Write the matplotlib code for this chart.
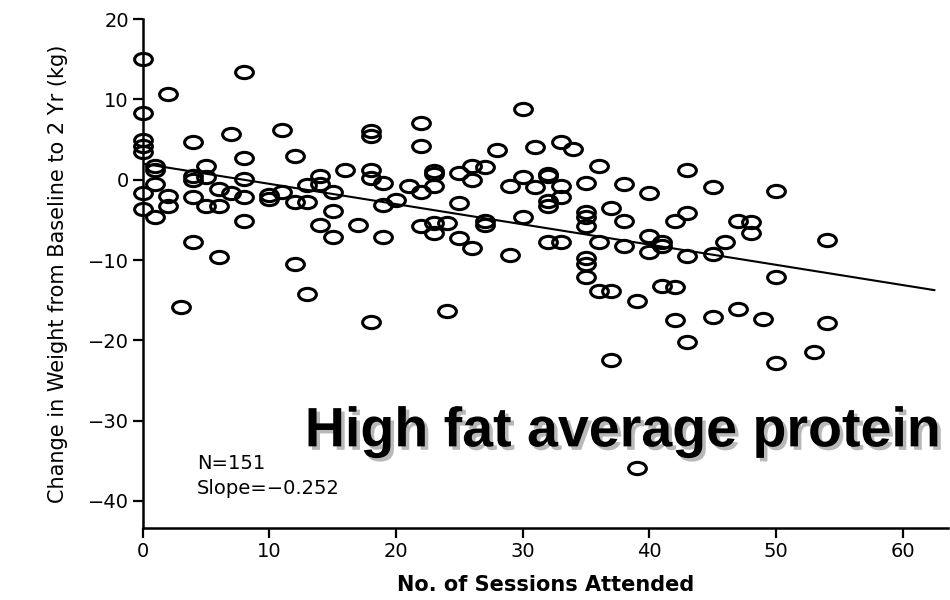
import matplotlib
matplotlib.use('Agg')
import matplotlib.pyplot as plt
import matplotlib.patheffects as pe
from matplotlib.path import Path
import numpy as np

# sessions attended / weight change (kg)
sessions = [0, 0, 0, 0, 0, 0, 0,
            1, 1, 1, 1,
            2, 2, 2,
            3,
            4, 4, 4, 4, 4,
            5, 5, 5,
            6, 6, 6,
            7, 7,
            8, 8, 8, 8, 8,
            10, 10,
            11, 11,
            12, 12, 12,
            13, 13, 13,
            14, 14, 14,
            15, 15, 15,
            16,
            17,
            18, 18, 18, 18, 18,
            19, 19, 19,
            20,
            21,
            22, 22, 22, 22,
            23, 23, 23, 23, 23,
            24, 24,
            25, 25, 25,
            26, 26, 26,
            27, 27, 27,
            28,
            29, 29,
            30, 30, 30,
            31, 31,
            32, 32, 32, 32, 32,
            33, 33, 33, 33,
            34,
            35, 35, 35, 35, 35, 35, 35,
            36, 36, 36,
            37, 37, 37,
            38, 38, 38,
            39, 39,
            40, 40, 40,
            41, 41, 41,
            42, 42, 42,
            43, 43, 43, 43,
            45, 45, 45,
            46,
            47, 47,
            48, 48,
            49,
            50, 50, 50,
            53,
            54, 54]

weight_change = [15.0, 8.3, 5.0, 4.15, 3.4, -1.6, -3.7,
                 1.75, 1.25, -0.5, -4.7,
                 10.7, -2.0, -3.3,
                 -15.9,
                 4.7, 0.4, -0.1, -2.1, -7.7,
                 1.75, 0.3, -3.3,
                 -1.2, -3.3, -9.6,
                 5.7, -1.6,
                 13.4, 2.7, 0.1, -2.1, -5.2,
                 -1.9, -2.4,
                 6.2, -1.5,
                 3.0, -2.8, -10.5,
                 -0.7, -2.8, -14.2,
                 0.4, -0.6, -5.6,
                 -1.5, -3.9, -7.1,
                 1.25,
                 -5.6,
                 6.0, 5.4, 1.25, 0.2, -17.7,
                 -0.4, -3.2, -7.1,
                 -2.5,
                 -0.75,
                 7.1, 4.2, -1.5, -5.8,
                 1.1, 0.7, -0.75, -5.4, -6.7,
                 -5.4, -16.4,
                 0.8, -2.9, -7.3,
                 1.75, 0.0, -8.5,
                 1.6, -5.2, -5.6,
                 3.7,
                 -0.8, -9.4,
                 8.8, 0.3, -4.65,
                 4.1, -0.9,
                 0.75, 0.4, -2.7, -3.3, -7.8,
                 4.65, -0.8, -2.2, -7.8,
                 3.8,
                 -0.4, -4.0, -4.6, -5.8, -9.8, -10.5, -12.1,
                 1.7, -7.8, -13.9,
                 -3.5, -13.8, -22.5,
                 -0.6, -5.1, -8.3,
                 -15.05, -35.9,
                 -1.7, -7.0, -9.0,
                 -7.7, -8.2, -13.2,
                 -5.1, -13.3, -17.5,
                 1.25, -4.1, -9.5, -20.2,
                 -0.9, -9.3, -17.1,
                 -7.8,
                 -5.1, -16.1,
                 -5.3, -6.7,
                 -17.4,
                 -1.4, -12.1, -22.8,
                 -21.4,
                 -7.5, -17.8]

# fitted line
slope = -0.252
intercept = 2.0
fit_x = [0, 62.5]
n_label = 'N=151'
slope_label = 'Slope=\u22120.252'
title = 'High fat average protein'

xticks = [0, 10, 20, 30, 40, 50, 60]
yticks = [20, 10, 0, -10, -20, -30, -40]

# wide ellipse marker (the original is stretched)
circ = Path.unit_circle()
ellipse = Path(circ.vertices * np.array([1.45, 1.0]), circ.codes)

fig = plt.figure(figsize=(9.5, 6), dpi=100)
ax = fig.add_axes([0.1502, 0.1195, 0.848, 0.8488])

ax.plot(sessions, weight_change, linestyle='none', marker=ellipse,
        ms=12.8, mfc='none', mec='black', mew=2.2, zorder=3, clip_on=False)

fx = np.array(fit_x, dtype=float)
ax.plot(fx, intercept + slope * fx, color='black', lw=1.5, zorder=2)

ax.set_xlim(0, 63.6)
ax.set_ylim(-43.4, 20.0)
ax.set_xticks(xticks)
ax.set_yticks(yticks)
ax.set_yticklabels([str(t).replace('-', '\u2212') for t in yticks])

for s in ['top', 'right']:
    ax.spines[s].set_visible(False)
for s in ['left', 'bottom']:
    ax.spines[s].set_linewidth(1.8)
ax.tick_params(direction='out', length=7, width=1.6, labelsize=14, pad=3)

ax.set_xlabel('No. of Sessions Attended', fontsize=15, fontweight='bold', labelpad=10)
ax.set_ylabel('Change in Weight from Baseline to 2 Yr (kg)', fontsize=15, labelpad=14)

ax.text(4.3, -35.3, n_label, fontsize=14, va='center', ha='left')
ax.text(4.3, -38.4, slope_label, fontsize=14, va='center', ha='left')

ax.text(12.8, -33.2, title, fontsize=40, fontweight='bold', family='Liberation Sans',
        ha='left', va='baseline', zorder=5,
        path_effects=[pe.withSimplePatchShadow(offset=(2.5, -2.5), shadow_rgbFace='#8a8a8a', alpha=0.6)])

fig.savefig('out.png', dpi=100, facecolor='white')
plt.close()
